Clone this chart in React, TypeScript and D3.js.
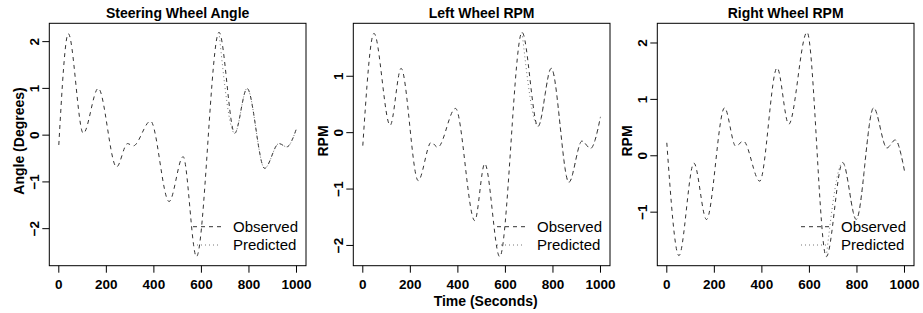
import * as d3 from "d3";

// time stamps (seconds) at the turning points of each trace
const steerTime = [0, 40, 103, 166, 243, 289, 313, 386, 464, 523, 579, 674, 740, 792, 866, 926, 959, 1000];
const steerObserved = [-0.21, 2.17, 0.04, 1.0, -0.68, -0.18, -0.23, 0.3, -1.42, -0.46, -2.6, 2.2, 0.04, 1.0, -0.71, -0.18, -0.25, 0.14];
const steerPredTime = [674, 740, 792, 866, 926, 959, 1000];
const steerPredicted = [2.2, 0.04, 1.0, -0.71, -0.18, -0.25, 0.14];

const leftTime = [0, 47, 115, 161, 233, 288, 315, 390, 471, 513, 576, 670, 737, 793, 867, 922, 958, 1000];
const leftObserved = [-0.23, 1.76, 0.13, 1.14, -0.85, -0.17, -0.26, 0.43, -1.56, -0.55, -2.2, 1.78, 0.11, 1.14, -0.88, -0.15, -0.28, 0.28];
const leftPredTime = [670, 737, 793, 867, 922, 958, 1000];
const leftPredicted = [1.78, 0.11, 1.14, -0.88, -0.15, -0.28, 0.28];

const rightTime = [0, 51, 114, 167, 243, 290, 322, 391, 464, 513, 590, 671, 740, 797, 870, 926, 961, 1000];
const rightObserved = [0.23, -1.77, -0.13, -1.13, 0.85, 0.17, 0.26, -0.45, 1.56, 0.56, 2.19, -1.79, -0.12, -1.13, 0.85, 0.14, 0.28, -0.27];
const rightPredTime = [671, 740, 797, 870, 926, 961, 1000];
const rightPredicted = [-1.79, -0.12, -1.13, 0.85, 0.14, 0.28, -0.27];

const xTicks = [0, 200, 400, 600, 800, 1000];
const legendLabels = ["Observed", "Predicted"];

const FONT = "'Liberation Sans', Arial, Helvetica, sans-serif";
const TOP = 23.3;
const BOTTOM = 265.7;
const OBS_COLOR = "#333";
const PRED_COLOR = "#777";

type Props = {
  title: string;
  ylab: string;
  xlab?: string;
  left: number;
  right: number;
  time: number[];
  observed: number[];
  predTime: number[];
  predicted: number[];
  yTicks: number[];
};

const fmt = (v: number) => (v < 0 ? "\u2212" + Math.abs(v) : String(v));

function Panel({ title, ylab, xlab, left, right, time, observed, predTime, predicted, yTicks }: Props) {
  // R-style 4% padding on both axes
  const xPad = 1000 * 0.04;
  const x = d3.scaleLinear().domain([-xPad, 1000 + xPad]).range([left, right]);
  const yExt = d3.extent([...observed, ...predicted]) as [number, number];
  const yPad = (yExt[1] - yExt[0]) * 0.04;
  const y = d3.scaleLinear().domain([yExt[0] - yPad, yExt[1] + yPad]).range([BOTTOM, TOP]);

  const line = d3.line<[number, number]>()
    .x(d => x(d[0]))
    .y(d => y(d[1]))
    .curve(d3.curveMonotoneX);

  const obsPath = line(time.map((t, i) => [t, observed[i]]))!;
  const predPath = line(predTime.map((t, i) => [t, predicted[i]]))!;
  const cx = (left + right) / 2;

  return (
    <g fontFamily={FONT}>
      <text x={cx} y={18} textAnchor="middle" fontWeight="bold" fontSize={14}>{title}</text>
      <path d={obsPath} fill="none" stroke={OBS_COLOR} strokeWidth={1} strokeDasharray="4,4" />
      <path d={predPath} fill="none" stroke={PRED_COLOR} strokeWidth={1} strokeDasharray="1,3" />
      <rect x={left} y={TOP} width={right - left} height={BOTTOM - TOP} fill="none" stroke="#000" strokeWidth={1} />

      {/* x axis */}
      {xTicks.map(t => (
        <g key={`xt-${t}`}>
          <line x1={x(t)} x2={x(t)} y1={BOTTOM} y2={BOTTOM + 7} stroke="#000" />
          <text x={x(t)} y={289} textAnchor="middle" fontWeight="bold" fontSize={13.5}>{t}</text>
        </g>
      ))}
      {xlab && (
        <text x={cx + 4} y={306} textAnchor="middle" fontWeight="bold" fontSize={14}>{xlab}</text>
      )}

      {/* y axis */}
      {yTicks.map(t => (
        <g key={`yt-${t}`}>
          <line x1={left - 7} x2={left} y1={y(t)} y2={y(t)} stroke="#000" />
          <text
            transform={`translate(${left - 15},${y(t)}) rotate(-90)`}
            textAnchor="middle"
            dy="0.35em"
            fontWeight="bold"
            fontSize={13.5}
          >
            {fmt(t)}
          </text>
        </g>
      ))}
      <text
        transform={`translate(${left - 30.5},141) rotate(-90)`}
        textAnchor="middle"
        dy="0.35em"
        fontWeight="bold"
        fontSize={14}
      >
        {ylab}
      </text>

      {/* legend, bottom right, no box */}
      {legendLabels.map((lab, i) => {
        const ly = BOTTOM - 39 + i * 18.3;
        return (
          <g key={lab}>
            <line
              x1={right - 113}
              x2={right - 85}
              y1={ly}
              y2={ly}
              stroke={i === 0 ? OBS_COLOR : PRED_COLOR}
              strokeDasharray={i === 0 ? "4,4" : "1,3"}
            />
            <text x={right - 73} y={ly} dy="0.35em" fontSize={15}>{lab}</text>
          </g>
        );
      })}
    </g>
  );
}

export default function App() {
  return (
    <svg
      width={923}
      height={313}
      style={{ position: "absolute", left: 0, top: 0, background: "#fff" }}
    >
      <Panel
        title="Steering Wheel Angle"
        ylab="Angle (Degrees)"
        left={49.3}
        right={306}
        time={steerTime}
        observed={steerObserved}
        predTime={steerPredTime}
        predicted={steerPredicted}
        yTicks={[-2, -1, 0, 1, 2]}
      />
      <Panel
        title="Left Wheel RPM"
        ylab="RPM"
        xlab="Time (Seconds)"
        left={353.3}
        right={610}
        time={leftTime}
        observed={leftObserved}
        predTime={leftPredTime}
        predicted={leftPredicted}
        yTicks={[-2, -1, 0, 1]}
      />
      <Panel
        title="Right Wheel RPM"
        ylab="RPM"
        left={657.3}
        right={914}
        time={rightTime}
        observed={rightObserved}
        predTime={rightPredTime}
        predicted={rightPredicted}
        yTicks={[-1, 0, 1, 2]}
      />
    </svg>
  );
}
